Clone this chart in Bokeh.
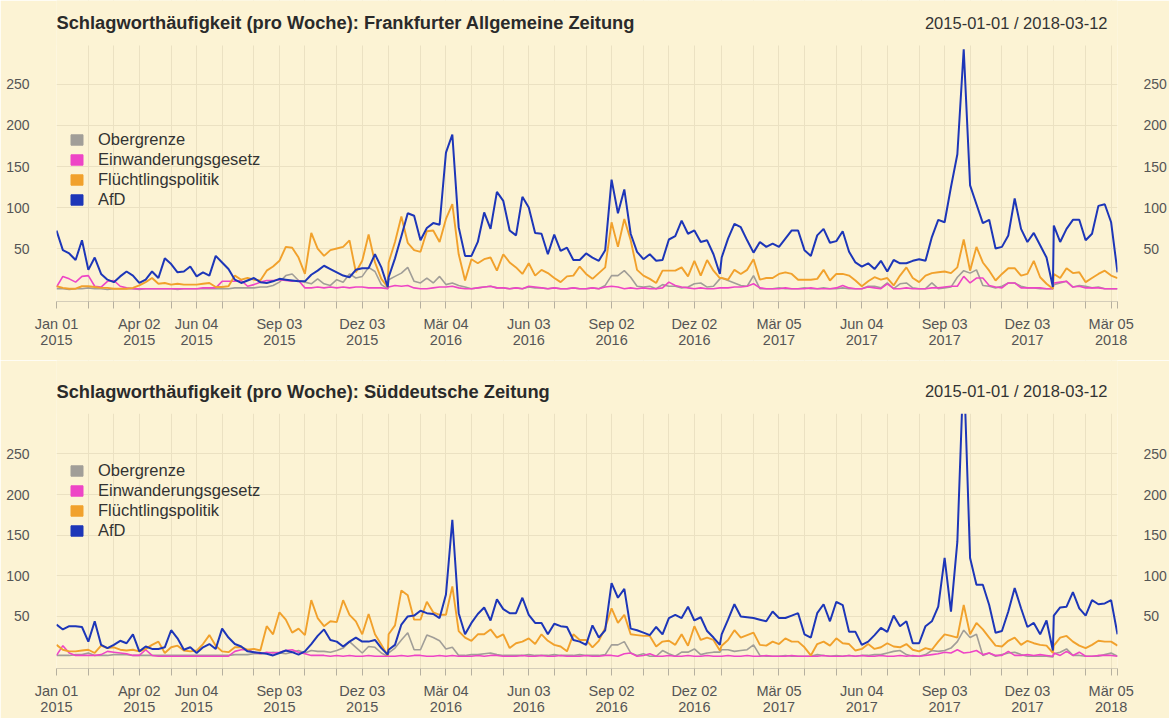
import pandas as pd
from bokeh.plotting import figure
from bokeh.layouts import column
from bokeh.models import (Range1d, FixedTicker, LinearAxis, Legend, LegendItem, Label,
                          BoxAnnotation)
from bokeh.embed import file_html
from bokeh.resources import INLINE

# ---------------- data (weekly counts; weeks restart on Jan 01 of every year) ----------------
weeks_per_year = {2015: 53, 2016: 53, 2017: 53, 2018: 11}

# Frankfurter Allgemeine Zeitung
faz_afd_2015 = [72,48,44,36,60,24,39,19,12,9,16,22,17,8,12,22,14,38,31,21,22,28,16,21,17,41,33,25,12,8,11,14,9,8,10,13,12,11,10,10,18,23,29,25,21,17,15,24,26,26,43,27,3]
faz_afd_2016 = [15,38,65,93,90,60,75,81,79,167,189,76,41,41,58,94,74,119,108,72,66,113,100,69,68,43,67,47,51,36,36,44,39,35,48,134,93,122,68,46,37,43,35,36,61,65,84,68,72,58,60,43,19]
faz_afd_2017 = [39,62,80,76,60,45,58,52,56,52,62,72,72,48,41,66,74,57,59,71,46,33,28,32,25,35,22,36,32,32,35,37,35,64,85,82,125,165,293,127,104,81,85,50,52,66,111,74,58,69,54,39,3]
faz_afd_2018 = [78,58,74,85,85,60,68,102,104,82,21]

faz_fl_2015 = [4,2,1,1,4,4,3,2,2,1,1,1,2,5,9,14,7,8,6,7,6,6,6,7,8,3,3,4,17,12,14,12,11,23,28,35,52,51,39,19,69,50,41,48,50,52,60,21,35,67,33,13,3]
faz_fl_2016 = [33,58,89,57,48,46,71,72,58,86,104,43,11,37,32,37,39,23,43,33,27,19,32,17,24,20,14,9,16,17,28,19,13,20,27,82,52,86,60,24,17,13,8,23,23,23,27,16,35,17,36,23,14]
faz_fl_2017 = [14,12,24,19,24,37,12,14,14,19,21,19,12,12,12,13,24,11,19,19,17,11,4,10,15,12,14,5,17,27,14,9,17,20,21,22,20,27,61,23,52,33,23,11,19,26,26,17,19,35,15,7,1]
faz_fl_2018 = [19,14,26,20,21,9,14,19,23,17,14]

faz_ob_2015 = [1,1,0,1,1,2,1,1,0,1,1,1,1,0,1,1,1,1,1,0,1,1,1,1,1,1,1,1,2,2,2,2,3,3,5,9,17,19,11,9,7,13,7,5,12,9,19,14,16,27,22,6,1]
faz_ob_2016 = [12,16,20,27,10,8,14,8,16,6,8,5,3,1,2,3,4,2,2,1,2,1,3,2,2,1,2,1,1,2,1,1,2,1,5,17,17,23,15,4,3,4,1,6,4,4,2,3,7,8,3,4,13]
faz_ob_2017 = [14,11,8,5,4,17,1,1,1,2,1,1,1,2,1,1,2,1,1,2,1,1,1,4,4,2,8,1,7,8,2,1,1,8,1,2,3,15,23,20,24,5,4,2,4,8,8,4,2,2,1,1,1]
faz_ob_2018 = [6,8,10,3,5,4,2,3,1,1,1]

faz_ei_2015 = [3,16,13,9,16,17,4,3,10,11,4,2,1,1,1,1,1,1,1,1,1,1,1,2,2,2,10,10,10,11,4,6,9,11,11,12,11,10,11,2,2,3,2,3,2,3,2,3,3,2,2,2,1]
faz_ei_2016 = [3,5,4,5,2,1,1,2,3,3,4,2,1,1,2,3,4,2,2,1,2,1,4,3,2,1,2,1,1,2,1,1,2,1,3,4,3,1,2,1,2,1,1,2,9,5,3,2,1,2,1,1,2]
faz_ei_2017 = [2,2,3,3,4,7,2,1,1,1,2,1,1,1,2,1,1,1,2,5,2,1,1,3,2,1,7,1,1,2,1,1,1,2,2,3,4,4,16,8,14,14,5,3,2,8,8,2,2,2,2,1,1]
faz_ei_2018 = [8,9,10,3,4,2,2,2,1,1,1]

# Süddeutsche Zeitung
sz_afd_2015 = [40,34,38,38,37,19,44,15,11,15,20,17,28,7,13,10,10,12,33,23,9,12,5,12,16,10,35,24,16,13,7,6,5,4,2,5,8,6,3,7,16,26,34,21,19,13,19,24,19,19,21,11,3]
sz_afd_2016 = [9,15,40,50,51,57,54,53,48,77,169,54,28,42,53,61,45,71,59,54,54,73,52,42,42,28,41,38,37,21,19,15,39,24,33,91,73,84,35,33,30,27,37,28,48,52,48,62,45,49,32,24,15]
sz_afd_2017 = [28,46,65,50,49,48,46,44,56,48,48,51,54,28,24,54,65,44,68,64,31,31,15,19,27,36,31,51,38,44,17,17,38,44,62,122,56,142,362,122,89,89,64,30,32,56,85,60,37,42,28,45,8]
sz_afd_2018 = [51,61,62,80,60,51,70,65,66,70,28]

sz_fl_2015 = [15,9,7,7,8,9,5,14,11,12,9,8,9,7,10,15,19,5,12,14,8,7,8,16,27,14,7,6,12,12,9,10,8,38,28,55,46,30,35,27,70,48,38,44,43,70,52,44,28,53,28,15,2]
sz_fl_2016 = [28,39,82,76,46,46,68,55,52,52,87,32,24,20,28,28,34,24,28,11,17,19,23,16,28,20,15,13,7,28,21,21,12,20,36,60,42,52,28,27,26,26,13,19,20,15,28,14,38,21,24,21,8]
sz_fl_2017 = [14,21,33,24,27,30,15,14,19,16,23,19,19,12,2,16,19,14,23,17,16,8,10,16,10,12,17,13,12,16,9,7,11,9,19,28,26,24,64,28,42,34,24,14,13,20,24,15,20,17,15,14,5]
sz_fl_2018 = [14,24,26,19,14,11,15,20,19,19,14]

sz_ob_2015 = [2,2,2,3,3,5,2,2,2,3,3,3,2,2,2,2,2,2,2,2,2,2,2,2,2,2,2,2,3,3,3,4,4,5,6,5,4,6,8,5,8,7,7,6,8,11,19,12,5,13,12,5,1]
sz_ob_2016 = [5,11,21,30,9,9,27,24,20,10,12,2,2,3,3,4,5,3,2,2,2,2,3,2,2,2,3,2,2,2,3,2,2,2,3,15,15,19,5,2,4,1,1,8,4,1,6,6,10,3,5,6,6]
sz_ob_2017 = [9,9,7,8,9,15,2,1,1,1,2,1,1,1,1,3,2,1,2,1,2,1,2,2,3,3,5,7,8,3,1,1,3,8,7,8,11,19,33,24,28,2,5,1,3,5,6,3,1,1,1,1,0]
sz_ob_2018 = [4,6,10,2,2,1,1,1,3,5,1]

sz_ei_2015 = [2,14,5,2,2,2,2,3,7,6,5,4,2,2,9,2,1,1,1,1,1,1,1,1,1,1,1,1,7,9,9,6,4,6,5,6,8,9,6,4,2,2,2,1,2,1,2,1,1,2,1,1,1]
sz_ei_2016 = [1,1,2,1,2,2,1,1,2,1,2,1,1,1,2,1,2,2,1,1,1,2,1,1,2,1,1,2,1,1,1,2,1,1,2,2,1,4,5,1,2,4,1,1,2,1,1,2,1,1,2,1,1]
sz_ei_2017 = [1,2,1,1,2,1,1,2,1,1,1,2,1,1,1,1,2,1,1,1,2,1,2,1,1,2,1,1,2,1,2,1,2,3,4,6,5,9,5,6,8,3,5,2,2,7,2,2,3,2,3,2,1]
sz_ei_2018 = [5,2,7,2,6,1,1,2,2,2,1]

series_names = ["Obergrenze", "Einwanderungsgesetz", "Flüchtlingspolitik", "AfD"]
series_colors = ["#A19E98", "#EE45C6", "#F1A12C", "#1D36B8"]
series_widths = [1.6, 1.6, 1.9, 2.0]

labeled_ticks = {
    "2015-01-01": "Jan 01\n2015", "2015-04-02": "Apr 02\n2015", "2015-06-04": "Jun 04\n2015",
    "2015-09-03": "Sep 03\n2015", "2015-12-03": "Dez 03\n2015", "2016-03-04": "Mär 04\n2016",
    "2016-06-03": "Jun 03\n2016", "2016-09-02": "Sep 02\n2016", "2016-12-02": "Dez 02\n2016",
    "2017-03-05": "Mär 05\n2017", "2017-06-04": "Jun 04\n2017", "2017-09-03": "Sep 03\n2017",
    "2017-12-03": "Dez 03\n2017", "2018-03-05": "Mär 05\n2018",
}
titles = ["Schlagworthäufigkeit (pro Woche): Frankfurter Allgemeine Zeitung",
          "Schlagworthäufigkeit (pro Woche): Süddeutsche Zeitung"]
period_text = "2015-01-01 / 2018-03-12"
y_ticks = [50, 100, 150, 200, 250]

# ---------------- index ----------------
dates = []
for yr, n in weeks_per_year.items():
    dates += list(pd.date_range(f"{yr}-01-01", periods=n, freq="7D"))
start = dates[0]
xdays = [(d - start).days for d in dates]

def cat(prefix):
    return sum((globals()[f"{prefix}_{y}"] for y in weeks_per_year), [])

faz = [cat("faz_ob"), cat("faz_ei"), cat("faz_fl"), cat("faz_afd")]
sz = [cat("sz_ob"), cat("sz_ei"), cat("sz_fl"), cat("sz_afd")]
for s in faz + sz:
    assert len(s) == len(xdays), len(s)

# ticks: first observation of every month, plus the last observation
tick_x, overrides = [], {}
prev_month = None
for d, xd in zip(dates, xdays):
    if (d.year, d.month) != prev_month:
        tick_x.append(xd)
        overrides[xd] = labeled_ticks.get(d.strftime("%Y-%m-%d"), "")
        prev_month = (d.year, d.month)
tick_x.append(xdays[-1])
overrides[xdays[-1]] = ""

BG = "#FCF3D4"
GRID = "#EBE1C2"
FONT = "Liberation Sans"
NAN = float("nan")


def make_panel(title, data, height, mb_bottom, y_lo, y_hi, y_top_data, head_y, legend_vy):
    # the frame reaches the top of the figure; the strip above the data area holds the heading
    p = figure(width=1169, height=height, output_backend="svg", toolbar_location=None,
               x_range=Range1d(xdays[0], xdays[-1]), y_range=Range1d(y_lo, y_hi),
               min_border_left=56, min_border_right=50,
               min_border_top=0, min_border_bottom=mb_bottom)
    p.background_fill_color = BG
    p.border_fill_color = BG
    p.outline_line_color = None

    yt = FixedTicker(ticks=y_ticks, minor_ticks=[])
    ra = LinearAxis()
    p.add_layout(ra, "right")
    for ax, st in ((p.yaxis[0], 21), (ra, 20)):
        ax.ticker = yt
        ax.axis_line_color = None
        ax.major_tick_line_color = None
        ax.minor_tick_line_color = None
        ax.major_label_standoff = st
        ax.major_label_text_font = FONT
        ax.major_label_text_font_size = "14px"
        ax.major_label_text_color = "#555555"

    xa = p.xaxis[0]
    xa.ticker = FixedTicker(ticks=tick_x, minor_ticks=[])
    xa.major_label_overrides = overrides
    xa.axis_line_color = "#D4CDB9"
    xa.major_tick_line_color = "#B6B09F"
    xa.major_tick_out = 7
    xa.major_tick_in = 0
    xa.minor_tick_line_color = None
    xa.major_label_standoff = 7
    xa.major_label_text_font = FONT
    xa.major_label_text_font_size = "14.5px"
    xa.major_label_text_line_height = 1.05
    xa.major_label_text_color = "#555555"

    p.xgrid.grid_line_color = GRID
    p.ygrid.grid_line_color = GRID

    items = []
    for name, vals, col, lw in zip(series_names, data, series_colors, series_widths):
        p.line(xdays, vals, line_color=col, line_width=lw)
        sq = p.quad(left=[NAN], right=[NAN], top=[NAN], bottom=[NAN],
                    fill_color=col, line_color=col)
        items.append(LegendItem(label=name, renderers=[sq]))

    # heading strip: hides grid and anything beyond the data area's top
    p.add_layout(BoxAnnotation(bottom=y_top_data, fill_color=BG, fill_alpha=1.0,
                               line_color=None))

    leg = Legend(items=items, location=(13, legend_vy), orientation="vertical",
                 glyph_width=15, glyph_height=13, label_standoff=14, spacing=1,
                 padding=0, margin=0, label_height=18,
                 background_fill_alpha=0, border_line_color=None,
                 label_text_font=FONT, label_text_font_size="16.5px",
                 label_text_color="#333333")
    p.add_layout(leg)

    p.add_layout(Label(x=xdays[0], y=head_y, text=title, text_align="left",
                       text_baseline="middle", text_font=FONT, text_font_style="bold",
                       text_font_size="18.3px", text_color="#2A2A2A"))
    p.add_layout(Label(x=xdays[-1], y=head_y, text=period_text, text_align="right",
                       text_baseline="middle", x_offset=-10, text_font=FONT,
                       text_font_size="16.5px", text_color="#333333"))
    return p


# top panel: figure 0..360 px, frame 0..301, zero line at 289, 0.82 px per unit
p1 = make_panel(titles[0], faz, 360, 59, -14.6, 352.4, 297.6, 325.0, 92)
# bottom panel: figure 360..718 px, frame 360..669, zero line at 657.5, 0.815 px per unit
p2 = make_panel(titles[1], sz, 358, 49, -14.1, 365.0, 299.6, 327.0, 128)

layout = column(p1, p2, spacing=0)
open("out.html", "w").write(file_html(layout, INLINE))
